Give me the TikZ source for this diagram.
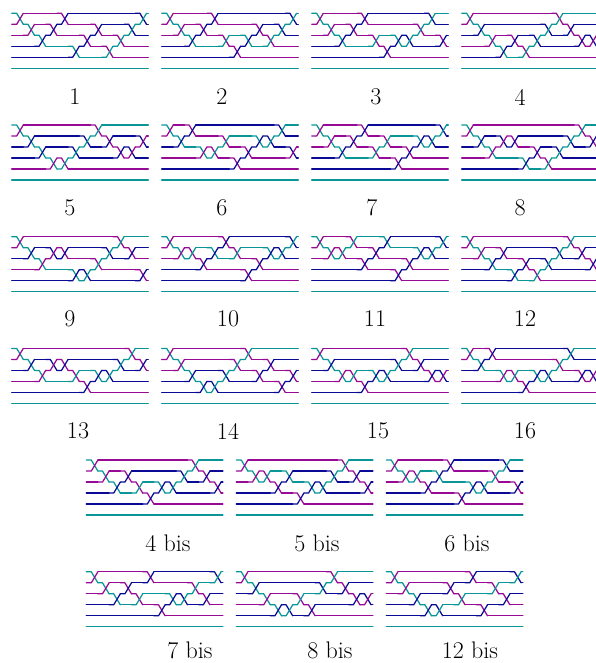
\documentclass[tikz,border=0pt]{standalone}
\definecolor{wt}{RGB}{10,150,150}
\definecolor{wp}{RGB}{150,10,150}
\definecolor{wn}{RGB}{10,10,150}
\tikzset{wdline/.style={line width=1.25pt,line cap=round,line join=round},
  lab/.style={font=\fontsize{24}{28}\selectfont,inner sep=0pt}}
\def\wdu{11.2}\def\wdoff{5}\def\wdw{6.6}\def\wdW{136.6}
\def\wdsetglobal#1#2{\global\expandafter\let\csname #1\expandafter\endcsname\csname #2\endcsname}
\newcommand\wdpanel[4]{%
  \begin{scope}[shift={(#1,#2)}]
  \foreach \c [count=\i] in {#3} {\global\expandafter\let\csname wdc\i\endcsname\c}%
  \gdef\wdprev{0}%
  \foreach \L [count=\k] in {#4} {%
    \pgfmathsetmacro\xs{(\k-1)*\wdu+\wdoff}%
    \pgfmathsetmacro\xe{\xs+\wdw}%
    \pgfmathtruncatemacro\Lp{\L+1}%
    \foreach \r in {1,...,5} {%
      \edef\cc{\csname wdc\r\endcsname}%
      \ifnum\r=\L\relax
        \draw[wdline,color=\cc] (\wdprev,\r*11-11) -- (\xs,\r*11-11) -- (\xe,\r*11);
      \else\ifnum\r=\Lp\relax
        \draw[wdline,color=\cc] (\wdprev,\r*11-11) -- (\xs,\r*11-11) -- (\xe,\r*11-22);
      \else
        \draw[wdline,color=\cc] (\wdprev,\r*11-11) -- (\xe,\r*11-11);
      \fi\fi
    }%
    \expandafter\let\expandafter\wdtmp\csname wdc\L\endcsname
    \wdsetglobal{wdc\L}{wdc\Lp}%
    \global\expandafter\let\csname wdc\Lp\endcsname\wdtmp
    \xdef\wdprev{\xe}%
  }%
  \foreach \r in {1,...,5} {\edef\cc{\csname wdc\r\endcsname}%
    \draw[wdline,color=\cc] (\wdprev,\r*11-11) -- (\wdW,\r*11-11);}%
  \draw[wdline,color=wt] (0,55) -- (\wdW,55);
  \end{scope}}
\begin{document}
\begin{tikzpicture}[x=1pt,y=-1pt]
\useasboundingbox (0,0) rectangle (595,663);
% row 1
\wdpanel{11.7}{13.3}{wt,wp,wp,wn,wn}{1,2,3,2,1,4,3,2,4,3,2,1}
\wdpanel{161.7}{13.3}{wt,wp,wp,wn,wn}{1,2,3,2,1,3,4,3,2,3,2,1}
\wdpanel{311.7}{13.3}{wt,wp,wp,wn,wn}{1,2,3,2,1,3,4,3,3,2,1,3}
\wdpanel{461.7}{13.3}{wt,wp,wn,wp,wn}{1,2,3,4,3,4,3,2,1,2,3,3}
% row 2
\wdpanel{11.7}{125}{wt,wp,wn,wn,wp}{1,2,3,4,4,3,2,1,2,3,3,2}
\wdpanel{161.7}{125}{wt,wp,wn,wp,wn}{1,2,1,3,3,2,4,3,2,2,1,3}
\wdpanel{311.7}{125}{wt,wp,wp,wn,wn}{1,2,3,2,1,3,2,4,3,2,2,1}
\wdpanel{461.7}{125}{wt,wp,wn,wp,wn}{1,2,3,2,2,4,3,4,3,2,1,2}
% row 3
\wdpanel{11.7}{236.7}{wt,wp,wn,wp,wn}{1,2,3,2,2,4,4,3,2,1,2,4}
\wdpanel{161.7}{236.7}{wt,wp,wp,wn,wn}{1,2,2,3,2,1,2,4,3,2,2,1}
\wdpanel{311.7}{236.7}{wt,wp,wp,wn,wn}{1,2,2,1,3,2,1,4,3,2,2,1}
\wdpanel{461.7}{236.7}{wt,wp,wp,wn,wn}{1,2,3,2,4,3,4,3,2,1,2,3}
% row 4
\wdpanel{11.7}{348.4}{wt,wp,wn,wp,wn}{1,2,3,2,2,3,4,3,3,2,1,2}
\wdpanel{161.7}{348.4}{wt,wp,wp,wn,wn}{1,2,3,4,4,3,2,1,3,2,4,3}
\wdpanel{311.7}{348.4}{wt,wp,wn,wp,wn}{1,2,3,3,4,3,3,2,1,2,3,3}
\wdpanel{461.7}{348.4}{wt,wp,wn,wp,wn}{1,2,1,3,3,4,3,3,2,1,3,3}
% row 5
\wdpanel{86.3}{460.1}{wt,wp,wp,wn,wn}{1,2,3,2,3,4,3,3,2,1,2,3}
\wdpanel{236.3}{460.1}{wt,wp,wp,wn,wn}{1,2,2,3,2,4,3,3,2,1,2,3}
\wdpanel{386.3}{460.1}{wt,wp,wp,wn,wn}{1,2,2,3,2,1,4,3,3,2,1,3}
% row 6
\wdpanel{86.3}{571.8}{wt,wp,wp,wn,wn}{1,2,3,2,3,1,4,3,3,2,3,1}
\wdpanel{236.3}{571.8}{wt,wp,wn,wp,wn}{1,2,3,4,4,3,4,2,1,2,3,3}
\wdpanel{386.3}{571.8}{wt,wp,wp,wn,wn}{1,2,3,4,4,2,3,1,4,2,3,1}
% labels
\node[lab] (l1) at (75,97) {1};
\node[lab] (l2) at (222,97) {2};
\node[lab] (l3) at (376,97) {3};
\node[lab] (l4) at (520,97) {4};
\node[lab] (l5) at (70,208) {5};
\node[lab] (l6) at (222,208) {6};
\node[lab] (l7) at (372,208) {7};
\node[lab] (l8) at (520,208) {8};
\node[lab] (l9) at (70,319) {9};
\node[lab] (l10) at (228,319) {10};
\node[lab] (l11) at (375,319) {11};
\node[lab] (l12) at (525,319) {12};
\node[lab] (l13) at (78,431) {13};
\node[lab] (l14) at (228,431) {14};
\node[lab] (l15) at (378,431) {15};
\node[lab] (l16) at (525,431) {16};
\node[lab] (l4b) at (168,543) {4 bis};
\node[lab] (l5b) at (317,543) {5 bis};
\node[lab] (l6b) at (467,543) {6 bis};
\node[lab] (l7b) at (190,650) {7 bis};
\node[lab] (l8b) at (330,650) {8 bis};
\node[lab] (l12b) at (470,650) {12 bis};
\end{tikzpicture}
\end{document}
